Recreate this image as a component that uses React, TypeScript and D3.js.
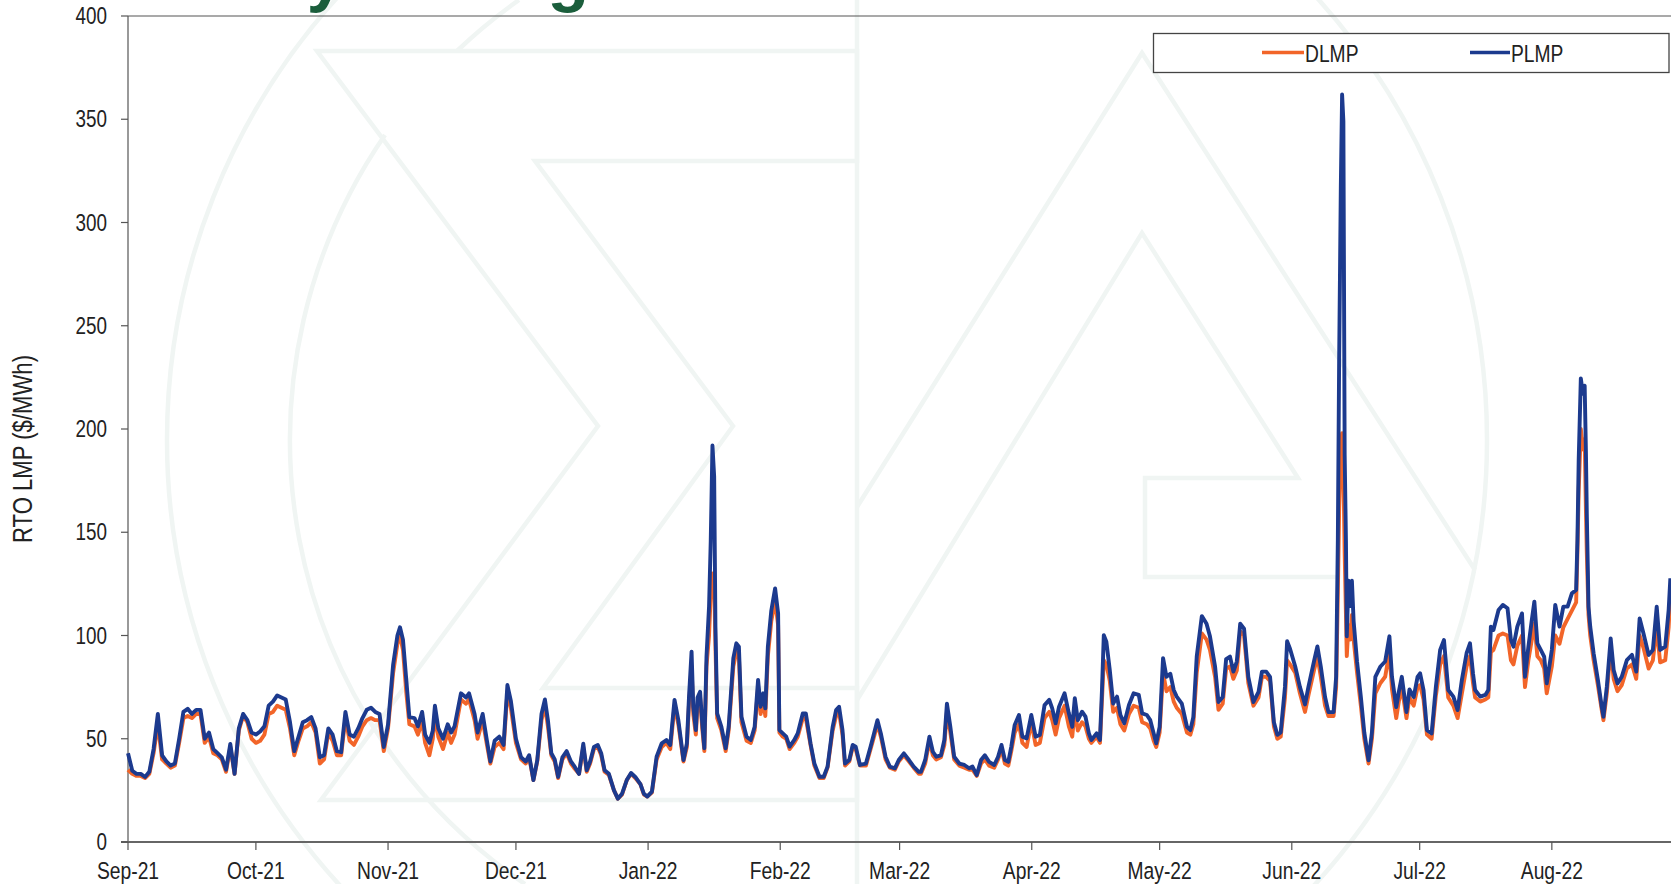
import React from 'react';
import * as d3 from 'd3';

// ---------- DATA ----------
// day offsets since 2021-09-01
const dayOffsets: number[] = [
  0,1,2,3,4,5,6,7,8,9,10,11,12,13,14,15,16,17,18,19,20,21,22,23,24,25,26,27,28,29,
  30,31,32,33,34,35,36,37,38,39,40,41,42,43,44,45,46,47,48,49,50,51,52,53,54,55,56,57,58,59,60,
  61,62.2,63.2,63.8,64.5,65.3,66,67.2,68,69,69.7,70.7,71.5,72,72.8,73.9,75,75.8,76.6,78.1,
  79.3,80,81.3,82,83.2,84.2,85,86,87.1,88.1,89,89.8,91,92.2,93.3,94.1,95.1,96,97,97.8,
  98.5,99.3,100.1,100.9,101.9,102.9,103.9,104.6,105.8,106.8,107.6,108.4,109.3,110.2,111,111.8,112.8,114,114.9,115.9,
  117,118,119,120.2,121,121.8,
  122.9,124,125.2,126.3,127.2,128.2,129.1,130.3,131.1,131.6,132.2,132.6,133.2,133.6,134.2,134.7,135.2,135.7,136.3,136.7,
  137.1,137.5,137.8,138.2,139.2,140.2,140.9,142,142.7,143.3,143.9,145.1,146.1,147,147.8,148.4,149,149.5,150.1,150.9,
  151.8,152.5,152.8,153.6,154.4,155.2,156.3,157.1,158.3,159,160.1,161,162.2,163.2,164.1,165.3,166.1,166.8,167.6,168.2,
  169.2,170,170.7,171.7,173.1,174.2,175,175.8,176.6,177.7,178.7,179.9,180.8,182,183.2,184.3,185.5,
  186,187,188,188.8,189.6,190.7,191.5,192.1,192.9,193.8,195,196.2,197.3,198.1,199.1,200.1,201,202,203.2,204.1,
  204.9,205.7,206.5,207.2,208,209,209.8,210.8,211.9,212.9,213.9,215,216.1,216.8,217.6,218.4,219.7,220.7,221.5,222.1,
  222.8,223.8,224.6,225.4,226,227.2,228,228.5,228.9,229.5,230.3,231.1,232,232.8,233.7,234.8,235.9,237.1,237.9,239,
  239.8,240.6,241.2,242,242.8,243.6,244.5,245.3,246,247.2,248.4,249.2,
  249.9,250.7,251.9,253,253.8,255,255.8,256.8,257.6,258.5,259.3,260.1,260.9,261.8,262.8,264,265.2,266,267,267.9,
  268.8,269.6,270.4,271.4,271.9,272.6,273.8,274.9,276.1,276.9,278.2,279,279.8,280.8,281.6,282.8,283.4,283.8,284.1,284.5,
  284.8,285.1,285.4,285.7,285.9,286.3,286.7,287.1,287.5,288.3,289.2,290,291,291.8,292.6,293.8,294.9,295.9,296.5,297.5,
  298.1,298.8,299.9,300.6,301.6,302.5,
  303.1,303.9,304.7,305.8,306.8,307.8,308.7,309.7,310.9,311.9,312.9,314,314.8,315.5,316,317.2,318.4,319.1,319.7,320.3,
  321.5,322.5,323.6,324.4,325,325.9,327,327.7,328.5,329.3,329.9,330.6,331.4,332.2,332.8,334,334.8,335.8,336.7,337.7,
  338.7,339.7,340,340.3,340.8,341.3,341.7,342,342.2,342.6,343,343.8,344.8,345.7,346.1,346.9,347.8,348.5,349.4,350.4,
  351.6,352.8,353.8,354.6,355.5,356.7,357.7,358.6,359.4,360.6,361.4,361.8,
];

const plmp: number[] = [
  43,34.5,33,33,31.5,34,45,62,42,39,37,38,50,63,64.5,62,64,64,50,53,45,43,41,35,47.5,33,55,62,59,53,
  52,53.5,56,66,68,71,70,69,58,44,51,58,59,60.5,55,41,42,55,52,44,43.5,63,52,51,55,60,64,65,63,62,46,
  57,86,100,104,98,78,60.5,60,56,63,52,48,54,66,55,50,57,53,56,72,
  70,72,62,53,62,49,39,49,51,47,76,68.5,50,41,39,42,30,39.5,62,69,
  59,43,40,31.5,41,44,39,37,33,47.6,34.7,39,46,47,43,34.7,33,25,21,23.4,
  30,33.4,31.5,28,23.4,22,
  24.4,41.3,47.8,49.4,47,68.8,59,39.7,47.8,70.4,92.2,65.5,54.2,70,72.8,57.5,45.4,89.7,114,146,
  192,177,104,62.3,55.8,45.4,55.8,89,96.2,94.6,60.7,51,49.4,55.8,78.5,65.5,72,64.7,94.6,112,
  122.8,110.7,54.2,52.6,51,46.2,49.4,52.6,62.3,62.3,47.8,38.1,31.6,31.6,36.5,55.8,63.9,65.5,54.2,38,
  39.7,47,46.2,37.3,38,46.2,52.6,59,52.6,41.3,36.5,35.7,39.7,42.9,39.7,36.5,34,
  34,39.7,51,43.7,41.3,42,49.4,67,55.8,41.3,38,37.3,35.7,36.5,32.4,39.7,42,38.8,37.3,41.3,
  47,39.7,38.8,46.2,56.7,61.5,51,50.2,61.5,51,51.8,66.3,68.8,64.7,57.5,65.5,72,62.3,55.8,69.6,
  59,63.1,60.7,52.6,49.4,52.6,49.4,75.2,100.2,97,83.3,67,70.4,61.5,57.5,66.3,72,71.2,62.3,61.5,
  59,52.6,47.8,55.8,89,80,81.5,73.6,70.4,67,55.8,54.2,
  60.5,89.8,109.4,105.7,99.6,85,67.8,70.2,88.6,89.8,82.5,87.4,105.7,103.3,80,67.8,72.7,82.5,82.5,80,
  58,51.9,53.1,75.1,97.2,93.5,85,75.1,66.6,75.1,87.4,94.7,85,70.2,62.9,62.9,80,146,231.8,317.4,
  362,349,187.7,146,99.6,126.5,114.3,126.5,107,87.4,70.2,53.1,39.6,53.1,80,85,87.4,99.6,80,65.3,
  72.7,80,62.9,73.9,70.2,80,
  81.7,73.6,54.2,52.6,75.2,93,97.8,73.6,70.4,63.9,78.5,91.4,96.2,81.7,73.6,70.4,71.2,73.6,104.3,102.7,
  112.3,114.8,113.2,97.8,94.6,104.3,110.7,80,94.6,107.5,116.4,96.2,93,89.8,76.8,93,114.8,104.3,114,114,
  120.4,122,146,185,224.5,217,221,188,159,114,104.3,91.4,78.5,65.5,60.7,75.2,98.6,83.3,76.8,80,
  88.1,90.6,82.5,108.3,101,90.6,93,114,93,94.6,112.3,127.7,
];

const dlmp: number[] = [
  35,33,32,32,31,33,43,57,40,38,36,37,48,60,61,60,62,62,48,51,43,42,40,34,46,33,54,61,58,50,
  48,49,52,62,63,66,65,64,55,42,49,55,56,58,53,38,40,53,49,42,42,60,49,47,51,56,59,60,59,59,44,
  55,82,96,100,93,72,57,56,52,58,48,42,50,62,51,45,53,48,52,69,
  67,69,59,50,59,47,38,46,48,45,73,65,48,40,38,41,30,39,59,66,
  56,42,39,31,40,43,38,36,33,46,34,38,45,46,42,34,32.5,25,21,23,
  30,33,31,28,23,22,
  24,40,46,48,45,66,57,39,46,67,85,62,52,66,70,55,44,85,100,120,
  130,126,95,60,54,44,54,85,92,90,58,49,48,54,75,62,69,61,90,107,
  117,105,53,51,50,45,48,51,60,60,47,37,31,31,36,54,61,63,52,37,
  39,46,45,37,37,45,51,57,51,40,36,35,39,42,39,36,33,
  33,38,49,42,40,41,47,63,53,40,37,36,35,35,32,38,40,37,36,40,
  45,38,37,44,53,57,48,46,58,47,48,60,63,59,52,60,66,56,51,64,
  54,58,56,50,48,51,48,70,88,86,78,63,65,57,54,62,66,65,58,57,
  55,49,46,53,82,73,75,68,65,62,53,52,
  57,82,101,98,93,80,64,67,84,85,79,83,102,100,77,66,70,80,80,78,
  56,50,51,70,88,86,82,72,63,71,83,90,80,66,61,61,75,120,160,190,
  198,180,140,110,90,105,98,110,98,82,66,50,38,50,72,77,80,92,74,60,
  68,75,60,70,66,75,
  76,69,52,50,71,86,90,70,66,60,72,85,90,77,70,68,69,70,92,93,
  100,101,100,88,86,95,100,75,88,98,106,90,88,84,72,85,100,96,104,108,
  112,116,140,170,200,190,195,160,140,110,100,88,76,64,59,72,94,79,73,76,
  84,86,79,100,94,84,88,104,87,88,104,120,
];

const monthLabels: string[] = ['Sep-21','Oct-21','Nov-21','Dec-21','Jan-22','Feb-22','Mar-22','Apr-22','May-22','Jun-22','Jul-22','Aug-22'];
const yTicks: number[] = [0, 50, 100, 150, 200, 250, 300, 350, 400];
const seriesNames: string[] = ['DLMP', 'PLMP'];
const seriesColors: string[] = ['#F26529', '#1C3A8E'];
const yTitle = 'RTO LMP ($/MWh)';
const slideTitle = 'Daily Average LMPs';

const W = 1671;
const H = 884;
const FONT = "'Liberation Sans', Arial, sans-serif";
const SQ = 0.82; // horizontal condensation (Arial Narrow look)
const WM = '#f0f5f3';

type NTProps = {
  x: number; y: number; size: number; anchor?: 'start' | 'middle' | 'end';
  baseline?: string; rotate?: number; children: React.ReactNode;
};
function NarrowText({ x, y, size, anchor = 'start', baseline, rotate = 0, children }: NTProps) {
  return (
    <text
      transform={`translate(${x},${y}) rotate(${rotate}) scale(${SQ},1)`}
      textAnchor={anchor}
      dominantBaseline={baseline}
      fontFamily={FONT}
      fontSize={size}
      fill="#222"
    >
      {children}
    </text>
  );
}

export default function App() {
  const start = Date.UTC(2021, 8, 1);
  const toDate = (d: number) => new Date(start + d * 86400000);
  const x = d3.scaleUtc()
    .domain([new Date(start), new Date(Date.UTC(2022, 8, 1))])
    .range([128, 128 + 365 * 4.263]);
  const y = d3.scaleLinear().domain([0, 400]).range([842, 16]);
  const months = d3.utcMonths(new Date(start), new Date(Date.UTC(2022, 8, 1)));

  const line = d3.line<number>()
    .x((_, i) => x(toDate(dayOffsets[i])))
    .y((v) => y(v));

  const plotLeft = 128, plotTop = 16, plotBottom = 842;

  return (
    <svg width={W} height={H} style={{ position: 'absolute', left: 0, top: 0, background: '#fff' }}>
      <rect x={0} y={0} width={W} height={H} fill="#ffffff" />
      {/* faint watermark logo */}
      <g fill="none" stroke={WM} strokeWidth={4.5}>
        <circle cx={827} cy={440} r={660} />
        <path d="M385,135 A537,537 0 0 0 525,884" />
        <path d="M457,51 A537,537 0 0 1 519,0" />
        <polygon points="317,51 857,51 857,161 535,161 733,426 543,688 857,688 857,800 321,800 598,426" />
        <line x1={857} y1={0} x2={857} y2={H} />
        <polyline points="857,507 1142,53 1475,570" />
        <polyline points="857,700 1142,233 1298,478 1145,478 1145,577 1338,577" />
      </g>
      {/* cropped slide title (only descenders visible, as in the reference) */}
      <text x={182} y={-1} fontFamily="'Liberation Sans', Arial, sans-serif" fontWeight="bold" fontSize={68} fill="#1B5E3C">{slideTitle}</text>

      {/* axes frame */}
      <line x1={plotLeft} y1={plotTop} x2={W} y2={plotTop} stroke="#555" strokeWidth={1.2} />
      <line x1={plotLeft} y1={plotTop} x2={plotLeft} y2={plotBottom} stroke="#555" strokeWidth={1.2} />
      <line x1={plotLeft - 7} y1={plotBottom} x2={W} y2={plotBottom} stroke="#666" strokeWidth={2} />

      {/* y ticks */}
      {yTicks.map((t) => (
        <g key={t}>
          <line x1={plotLeft - 7} x2={plotLeft} y1={y(t)} y2={y(t)} stroke="#555" strokeWidth={1.2} />
          <NarrowText x={107} y={y(t)} size={23} anchor="end" baseline="central">{t}</NarrowText>
        </g>
      ))}
      {/* x ticks */}
      {months.map((m, i) => (
        <g key={i}>
          <line x1={x(m)} x2={x(m)} y1={plotBottom} y2={plotBottom + 8} stroke="#555" strokeWidth={1.2} />
          <NarrowText x={x(m)} y={879} size={23.5} anchor="middle">{monthLabels[i]}</NarrowText>
        </g>
      ))}
      {/* y title */}
      <NarrowText x={23} y={449} size={27} anchor="middle" baseline="central" rotate={-90}>{yTitle}</NarrowText>

      {/* series */}
      <path d={line(dlmp) || ''} fill="none" stroke={seriesColors[0]} strokeWidth={3.9} strokeLinejoin="round" />
      <path d={line(plmp) || ''} fill="none" stroke={seriesColors[1]} strokeWidth={3.9} strokeLinejoin="round" />

      {/* legend */}
      <rect x={1153.5} y={33.5} width={515.5} height={39} fill="#fff" stroke="#444" strokeWidth={1.3} />
      <line x1={1262} x2={1304} y1={52.5} y2={52.5} stroke={seriesColors[0]} strokeWidth={3.6} />
      <NarrowText x={1305} y={61.5} size={23.5}>{seriesNames[0]}</NarrowText>
      <line x1={1470} x2={1510} y1={52.5} y2={52.5} stroke={seriesColors[1]} strokeWidth={3.6} />
      <NarrowText x={1511} y={61.5} size={23.5}>{seriesNames[1]}</NarrowText>
    </svg>
  );
}
